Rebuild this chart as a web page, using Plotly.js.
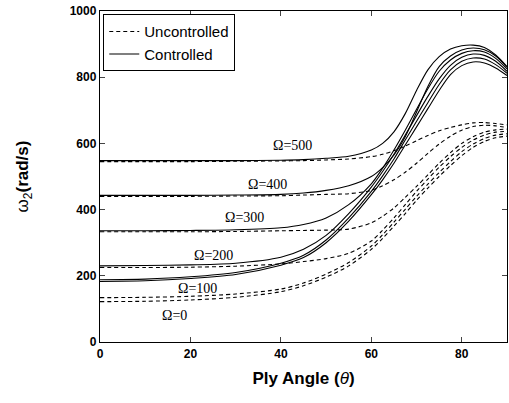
<!DOCTYPE html>
<html>
<head>
<meta charset="utf-8">
<script src="https://cdn.plot.ly/plotly-3.0.1.min.js"></script>
<style>html,body{margin:0;padding:0;background:#fff;}#chart{width:509px;height:403px;}</style>
</head>
<body>
<div id="chart"></div>
<script>
// Ply angle (degrees)
const plyAngle = [0,10,20,30,40,45,50,55,60,62.5,65,67.5,70,72.5,75,77.5,80,82.5,85,87.5,90];
const omegaLabels = ["Ω=0","Ω=100","Ω=200","Ω=300","Ω=400","Ω=500"];

// Controlled ω2 (rad/s)
const ctrl0   = [183,185,192,204,232,255,300,365,445,490,540,595,650,705,760,808,835,846,843,828,805];
const ctrl100 = [188,190,197,210,238,262,308,375,455,502,553,610,667,723,778,822,848,858,855,838,812];
const ctrl200 = [230,231,233,238,256,280,322,388,468,515,567,625,684,742,795,836,860,870,866,848,818];
const ctrl300 = [336,336,337,339,345,355,375,415,478,525,580,640,703,765,818,852,872,880,876,857,825];
const ctrl400 = [443,443,443,444,446,450,458,472,500,527,565,620,695,772,832,864,882,888,883,864,830];
const ctrl500 = [548,548,548,548,549,551,555,561,580,600,635,690,760,822,862,885,895,897,890,867,832];

// Uncontrolled ω2 (rad/s)
const unc0   = [122,123,127,135,152,170,196,230,280,313,350,388,428,465,500,533,563,588,606,617,622];
const unc100 = [134,135,138,145,160,178,205,240,290,324,362,401,440,477,512,545,575,598,615,625,629];
const unc200 = [225,225,226,229,236,243,252,268,305,338,375,415,455,492,528,560,588,610,625,634,636];
const unc300 = [333,333,333,334,336,337,338,341,360,380,405,437,470,505,540,572,600,620,634,641,643];
const unc400 = [440,440,440,441,442,444,446,448,458,472,490,513,540,570,598,622,640,651,655,653,648];
const unc500 = [545,545,545,546,547,548,550,553,560,567,578,592,608,624,638,648,656,662,663,660,656];

// label anchor positions (data units)
const labelX = [16.5,21.5,25,32,37,42.5];
const labelY = [80,163,262,376,476,593];

const ctrlSets = [ctrl0,ctrl100,ctrl200,ctrl300,ctrl400,ctrl500];
const uncSets  = [unc0,unc100,unc200,unc300,unc400,unc500];

const traces = [];
uncSets.forEach((ys,i)=>{
  traces.push({x:plyAngle,y:ys,type:'scatter',mode:'lines',name:'Uncontrolled',
    showlegend:i===0,legendrank:1,
    line:{color:'#000',width:1.1,dash:'4px,3px',shape:'spline',smoothing:0.8}});
});
ctrlSets.forEach((ys,i)=>{
  traces.push({x:plyAngle,y:ys,type:'scatter',mode:'lines',name:'Controlled',
    showlegend:i===0,legendrank:2,
    line:{color:'#000',width:1.1,shape:'spline',smoothing:0.8}});
});

const annotations = omegaLabels.map((t,i)=>({
  x:labelX[i],y:labelY[i],xref:'x',yref:'y',text:t,showarrow:false,
  font:{family:'Liberation Serif, serif',size:14,color:'#000'}
}));

const layout = {
  width:509,height:403,
  margin:{l:100,r:2,t:11,b:61},
  paper_bgcolor:'#fff',plot_bgcolor:'#fff',
  showlegend:true,
  legend:{x:0.008,y:0.99,xanchor:'left',yanchor:'top',bgcolor:'#fff',
    bordercolor:'#000',borderwidth:1,
    font:{family:'Liberation Sans, Arial, sans-serif',size:15,color:'#000'},
    tracegroupgap:0},
  xaxis:{range:[0,90],tickvals:[0,20,40,60,80],ticks:'inside',ticklen:5,
    showline:true,linecolor:'#000',linewidth:1.2,mirror:'ticks',showgrid:false,zeroline:false,
    tickfont:{family:'Liberation Sans, Arial, sans-serif',size:12,color:'#000',weight:'bold'},
    title:{text:'<b>Ply Angle (</b><i>θ</i><b>)</b>',standoff:12,
      font:{family:'Liberation Sans, Arial, sans-serif',size:17,color:'#000'}}},
  yaxis:{range:[0,1000],tickvals:[0,200,400,600,800,1000],ticks:'inside',ticklen:5,
    showline:true,linecolor:'#000',linewidth:1.2,mirror:'ticks',showgrid:false,zeroline:false,
    tickfont:{family:'Liberation Sans, Arial, sans-serif',size:12,color:'#000',weight:'bold'},
    title:{text:'ω<sub>2</sub><b>(rad/s)</b>',standoff:36,
      font:{family:'Liberation Sans, Arial, sans-serif',size:17,color:'#000'}}},
  annotations:annotations
};

Plotly.newPlot('chart',traces,layout,{displayModeBar:false,staticPlot:true});
</script>
</body>
</html>
